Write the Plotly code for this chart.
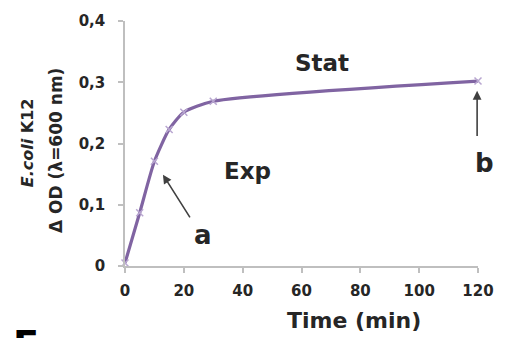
import plotly.graph_objects as go

# Growth curve of E. coli K12: change in optical density over time
time_min = [0, 5, 10, 15, 20, 30, 120]
delta_od = [0.005, 0.087, 0.171, 0.223, 0.251, 0.269, 0.302]

x_ticks = [0, 20, 40, 60, 80, 100, 120]
y_ticks = [0, 0.1, 0.2, 0.3, 0.4]
y_tick_text = ["0", "0,1", "0,2", "0,3", "0,4"]

FONT = "DejaVu Sans"
TXT = "#262626"
LINE = "#8064A2"

fig = go.Figure()
fig.add_trace(go.Scatter(
    x=time_min, y=delta_od,
    mode="lines+markers",
    line=dict(color=LINE, width=3.2, shape="spline", smoothing=0.6),
    marker=dict(symbol="x-thin", size=7, line=dict(color="#B8A6D0", width=1.5), color="#B8A6D0"),
    cliponaxis=False,
    showlegend=False,
))

L, R, T, B = 125, 27, 13, 72
W, H = 506 - L - R, 338 - T - B


def px(xp, yp):
    return (xp - L) / W, (T + H - yp) / H


def label(xp, yp, text, size, angle=0, color=TXT, xa="center", ya="middle"):
    x, y = px(xp, yp)
    return dict(x=x, y=y, xref="paper", yref="paper", xanchor=xa, yanchor=ya,
                textangle=angle, showarrow=False, text=text,
                font=dict(family=FONT, size=size, color=color))


annos = []
# phase labels
for txt, x, y, size in [("Stat", 66.8, 0.331, 23), ("Exp", 41.7, 0.155, 23),
                        ("a", 26.4, 0.051, 26)]:
    annos.append(dict(x=x, y=y, xref="x", yref="y", xanchor="center", yanchor="middle",
                      text="<b>%s</b>" % txt, showarrow=False,
                      font=dict(family=FONT, size=size, color=TXT)))
annos.append(label(486, 160, "<b>b</b>", 26))

# arrows pointing at the exponential and stationary samples
for tip, tail in [((12.9, 0.149), (22.4, 0.077)), ((119.7, 0.286), (119.7, 0.21))]:
    annos.append(dict(x=tip[0], y=tip[1], ax=tail[0], ay=tail[1], xref="x", yref="y",
                      axref="x", ayref="y", text="", showarrow=True,
                      arrowhead=2, arrowsize=1.1, arrowwidth=1.6, arrowcolor="#404040"))

# two-line y-axis title
annos.append(label(27, 139, "<b><i>E.coli</i> K12</b>", 16, angle=-90))
annos.append(label(56, 147, "<b>Δ OD (λ=600 nm)</b>", 17, angle=-90))

# x-axis title
annos.append(label(355, 322, "<b>Time (min)</b>", 22))

# next panel letter, cut off at the bottom edge
annos.append(label(11, 322, "<b>E</b>", 38, color="#000000", xa="left", ya="top"))

axis_common = dict(
    showline=True, linecolor="#BFBFBF", linewidth=1.5,
    ticks="outside", tickcolor="#BFBFBF", ticklen=5, tickwidth=1.5,
    showgrid=False, zeroline=False,
    tickfont=dict(family=FONT, size=15, color=TXT),
)

fig.update_layout(
    width=506, height=338,
    margin=dict(l=L, r=R, t=T, b=B),
    paper_bgcolor="white", plot_bgcolor="white",
    xaxis=dict(range=[0, 120], tickvals=x_ticks, ticktext=["<b>%d</b>" % v for v in x_ticks],
               ticklabelstandoff=5, **axis_common),
    yaxis=dict(range=[0, 0.4], tickvals=y_ticks, ticktext=["<b>%s</b>" % t for t in y_tick_text],
               ticklabelstandoff=10, **axis_common),
    annotations=annos,
)

fig.write_html("out.html")
